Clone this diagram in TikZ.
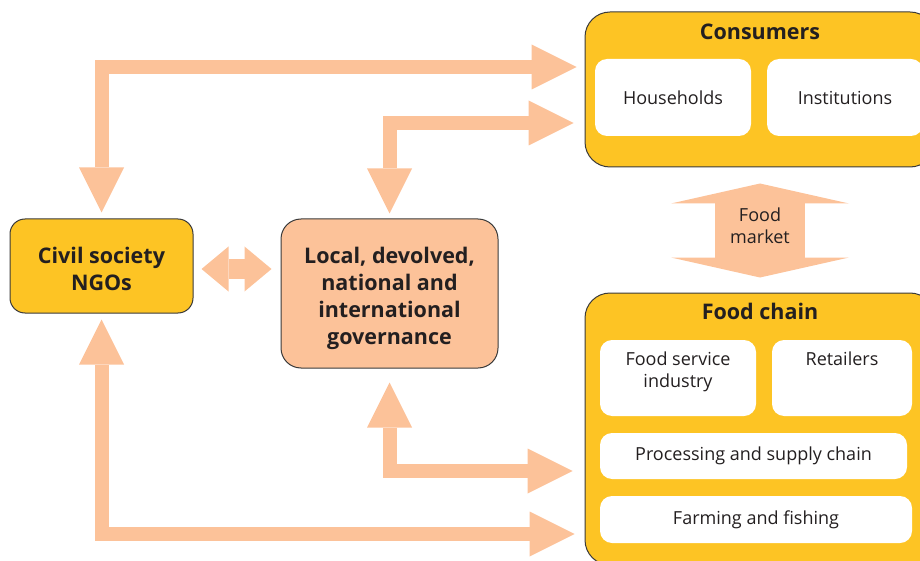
\documentclass[tikz,border=0pt]{standalone}
\usepackage{fontspec}
\setmainfont{Open Sans}
\usepackage{xcolor}
\usetikzlibrary{arrows.meta, calc}

\definecolor{giallo}{HTML}{FDC424}
\definecolor{pesca}{HTML}{FCC299}
\definecolor{bordo}{HTML}{3A3A3A}
\definecolor{testo}{HTML}{231F20}

\tikzset{
    box/.style={draw=bordo, line width=1pt, inner sep=0pt, align=center, text=testo,
        font=\bfseries\fontsize{21.5}{27}\selectfont},
    sub/.style={fill=white, rounded corners=12pt, inner sep=0pt, align=center, text=testo,
        font=\fontsize{18}{22}\selectfont},
    testa/.tip={Triangle[length=45pt, width=45pt, line width=0pt]},
    flow/.style={draw=pesca, line width=14pt, line join=miter, testa-testa},
}

\begin{document}
\begin{tikzpicture}[x=1pt, y=-1pt]
    \useasboundingbox (0,0) rectangle (920,561);
    \clip (0,0) rectangle (920,561);
    % Riquadri
    \node[box, fill=giallo, rounded corners=15pt, minimum width=183pt, minimum height=94pt]
        (civil) at (101.5,266) {};
    \node[box, draw=none] at ($(civil)+(0,3)$) {Civil society\\NGOs};
    \node[box, fill=pesca, rounded corners=20pt, minimum width=217pt, minimum height=149pt]
        (gov) at (389.5,293.5) {};
    \node[box, draw=none] at ($(gov)+(0,5)$) {Local, devolved,\\national and\\international\\governance};
    \node[box, fill=giallo, rounded corners=25pt, minimum width=350pt, minimum height=155pt]
        (cons) at (760,89.5) {};
    \node[box, draw=none, anchor=north] at ($(cons.north)+(0,12)$) {Consumers};
    \node[box, fill=giallo, rounded corners=25pt, minimum width=350pt, minimum height=272pt]
        (chain) at (760,429) {};
    \node[box, draw=none, anchor=north] at ($(chain.north)+(0,10)$) {Food chain};
    % Sottoriquadri
    \node[sub, minimum width=156pt, minimum height=77pt] (house) at (673,97.5) {Households};
    \node[sub, minimum width=156pt, minimum height=77pt] (inst) at (845,97.5) {Institutions};
    \node[sub, minimum width=156pt, minimum height=76pt] (serv) at (678,378) {};
    \node[sub, fill=none, anchor=north] at ($(serv.north)+(0,12)$) {Food service\\industry};
    \node[sub, minimum width=140pt, minimum height=76pt] (ret) at (842,378) {};
    \node[sub, fill=none, anchor=north] at ($(ret.north)+(0,12)$) {Retailers};
    \node[sub, minimum width=307pt, minimum height=46pt] (proc) at (753.5,456) {Processing and supply chain};
    \node[sub, minimum width=312pt, minimum height=47pt] (farm) at (756,519.5) {Farming and fishing};
    % Frecce
    \coordinate (riga1) at (0,67);
    \coordinate (riga2) at (0,123);
    \coordinate (riga3) at (0,471);
    \coordinate (riga4) at (0,534);
    \coordinate (riga5) at (0,269);
    \draw[flow, shorten <=6pt, shorten >=8pt] (civil.north) |- (cons.west |- riga1);
    \draw[flow, shorten <=5pt, shorten >=11pt] (gov.north) |- (cons.west |- riga2);
    \draw[flow, shorten <=14pt, shorten >=12pt] (gov.south) |- (chain.west |- riga3);
    \draw[flow, shorten <=6pt, shorten >=10pt] (civil.south) |- (chain.west |- riga4);
    \draw[draw=pesca, line width=20pt, {Triangle[length=27pt, width=45pt, line width=0pt]}-{Triangle[length=27pt, width=45pt, line width=0pt]},
        shorten <=8pt, shorten >=9pt] (civil.east |- riga5) -- (gov.west |- riga5);
    \draw[draw=pesca, line width=90pt, {Triangle[length=20pt, width=178pt, line width=0pt]}-{Triangle[length=20pt, width=178pt, line width=0pt]},
        shorten <=16pt, shorten >=15pt] (cons.south) -- (chain.north)
        node[midway, yshift=4pt, align=center, text=testo, font=\fontsize{18}{22}\selectfont] {Food\\market};
\end{tikzpicture}
\end{document}
